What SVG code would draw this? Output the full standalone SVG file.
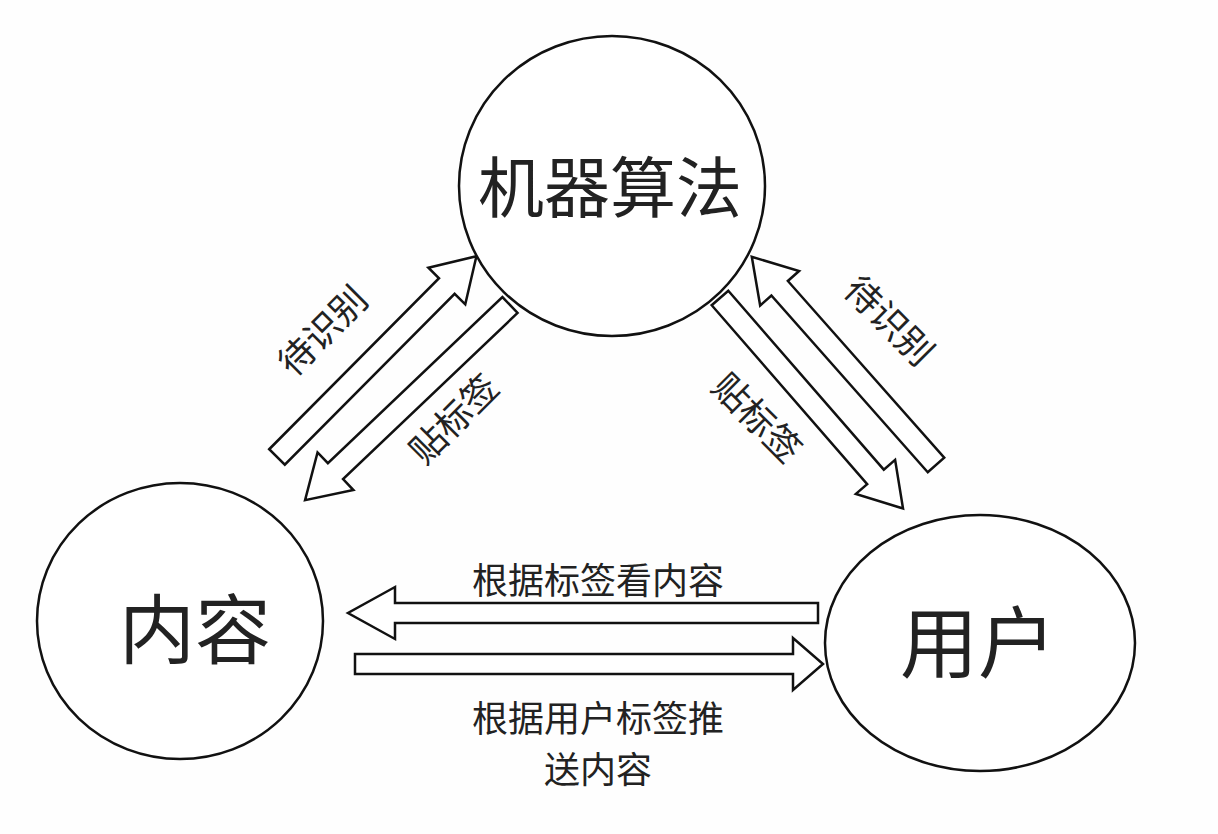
<svg xmlns="http://www.w3.org/2000/svg" width="1218" height="834" viewBox="0 0 1218 834">
<style>
.n{fill:#fff;stroke:#111;stroke-width:2.5}
.a{fill:#fff;stroke:#111;stroke-width:2.5;stroke-linejoin:miter}
text{font-family:"Noto Sans CJK SC","Noto Sans",sans-serif;fill:#222;text-anchor:middle}
.lb{font-size:36px}
</style>
<rect width="1218" height="834" fill="#fefefe"/>
<g id="connectors">
<polygon class="a" transform="translate(277,457) rotate(-45.2)" points="0,-11 241,-11 241,-26 283,0 241,26 241,11 0,11"/>
<polygon class="a" transform="translate(510,305) rotate(136.4)" points="0,-11 241,-11 241,-26 283,0 241,26 241,11 0,11"/>
<polygon class="a" transform="translate(936,465) rotate(-131.5)" points="0,-11 236,-11 236,-26 278,0 236,26 236,11 0,11"/>
<polygon class="a" transform="translate(720,298) rotate(49)" points="0,-11 237,-11 237,-26 279,0 237,26 237,11 0,11"/>
<polygon class="a" points="818,603 395,603 395,587 348,613 395,639 395,623 818,623"/>
<polygon class="a" points="355,654 793,654 793,638 823,664 793,690 793,674 355,674"/>
</g>
<g id="n-algo"><ellipse class="n" cx="612" cy="186" rx="153" ry="150"/><text x="610" y="212" font-size="66">机器算法</text></g>
<g id="n-content"><ellipse class="n" cx="180" cy="621" rx="143" ry="138"/><text x="195" y="658" font-size="76">内容</text></g>
<g id="n-user"><ellipse class="n" cx="980" cy="643" rx="155" ry="128"/><text x="978" y="672" font-size="78">用户</text></g>
<g id="labels">
<text class="lb" transform="translate(332,340) rotate(-45)">待识别</text>
<text class="lb" transform="translate(463,428) rotate(-45)">贴标签</text>
<text class="lb" transform="translate(880,330) rotate(45)">待识别</text>
<text class="lb" transform="translate(748,427) rotate(45)">贴标签</text>
<text class="lb" x="598" y="594">根据标签看内容</text>
<text class="lb" x="598" y="732">根据用户标签推</text>
<text class="lb" x="598" y="783">送内容</text>
</g>
</svg>
